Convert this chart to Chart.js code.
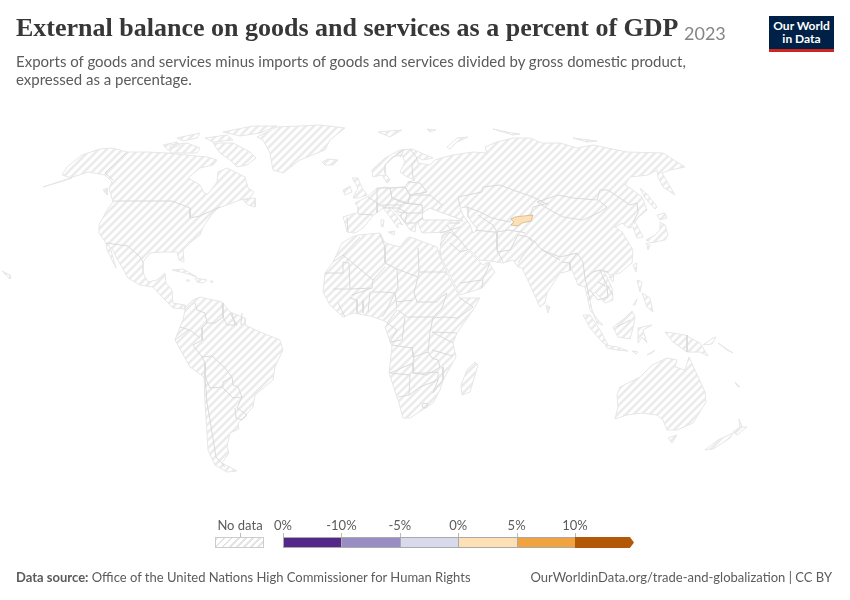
<!DOCTYPE html>
<html>
<head>
<meta charset="utf-8">
<title>External balance on goods and services as a percent of GDP</title>
<script src="https://cdn.jsdelivr.net/npm/chart.js@4"></script>
<style>
  html, body { margin: 0; padding: 0; background: #fff; }
  #page { position: relative; width: 850px; height: 600px; overflow: hidden; font-family: Lato, sans-serif; }
  #page > div, #page > span { position: absolute; white-space: nowrap; }
  #myChart { position: absolute; left: 0; top: 0; }
  #title { left: 16px; top: 13px; font: bold 26px "Liberation Serif", serif; color: #373737; }
  #year { left: 684px; top: 22px; font-size: 18px; color: #858585; }
  #subtitle { left: 16px; top: 52px; font-size: 15px; line-height: 18px; color: #5b5b5b; }
  #logo { left: 769px; top: 16px; width: 65px; padding-top: 3px; background: #002147; border-bottom: 3px solid #ce261e;
          color: #fff; font-size: 12px; font-weight: bold; line-height: 13px; text-align: center; box-sizing: content-box; height: 30px; }
  #source { left: 16px; top: 569px; font-size: 13px; color: #5b5b5b; }
  #link { right: 18px; top: 569px; font-size: 13px; color: #5b5b5b; }
  .lab { top: 517px; font-size: 13px; color: #5b5b5b; transform: translateX(-50%); }
  .bin { top: 537px; height: 11px; box-sizing: border-box; border: 1px solid #aaa; border-width: 1px 0 1px 1px; }
  .tick { top: 533px; width: 1px; height: 4px; background: #bbb; }
</style>
</head>
<body>
<div id="page">
  <canvas id="myChart" width="850" height="600"></canvas>
  <div id="title">External balance on goods and services as a percent of GDP</div>
  <div id="year">2023</div>
  <div id="subtitle">Exports of goods and services minus imports of goods and services divided by gross domestic product,<br>expressed as a percentage.</div>
  <div id="logo">Our World<br>in Data</div>
  <div id="source"><b>Data source:</b> Office of the United Nations High Commissioner for Human Rights</div>
  <div id="link">OurWorldinData.org/trade-and-globalization | CC BY</div>
</div>
<script>
// legend
const legendLabels = ['0%', '-10%', '-5%', '0%', '5%', '10%'];
const legendColors = ['#542788', '#998ec3', '#d8daeb', '#fee0b6', '#f1a340', '#b35806'];
const legendBreaks = [-10, -5, 0, 5, 10];

// only country with a value in this year
const kyrgyzstanValue = 2.5;

// map outlines, x,y pairs in map units
const northAmerica = [43,187,63,181,72,178,62,175,67,167,82,155,100,149,112,148,127,152,147,152,167,153,187,155,207,157,217,160,213,165,200,168,188,178,200,185,204,193,208,194,217,182,218,172,227,168,237,173,245,177,248,188,254,192,250,198,240,200,227,205,218,208,213,213,203,227,200,235,190,243,183,250,184,262,179,260,177,252,163,252,150,253,143,262,143,273,148,282,157,280,165,273,166,283,172,290,173,303,185,305,185,309,173,308,165,300,153,287,140,285,128,278,122,267,116,257,113,250,106,243,99,233,99,225,107,210,113,202,109,188,112,182,105,175,88,172];
const bajaCalifornia = [106,243,110,247,116,268,112,260,107,250];
const ellesmere = [223,132,253,126,277,126,260,133,240,136];
const baffin = [213,143,233,143,250,152,256,158,247,165,237,167,230,160,220,153];
const victoria = [170,145,187,143,200,148,197,153,170,153];
const banks = [163,145,177,142,180,145,168,150];
const arcticIsland1 = [177,138,200,133,197,138,183,141];
const arcticIsland2 = [205,138,227,135,233,140,213,142];
const newfoundland = [243,200,255,198,255,207,248,205];
const vancouver = [103,190,107,188,107,195];
const cuba = [172,270,183,269,197,277,185,273];
const hispaniola = [195,278,207,280,203,283,197,282];
const jamaica = [186,280,190,280,188,282];
const puertoRico = [210,281,213,281,212,283];
const greenland = [257,137,277,127,320,125,345,128,330,140,325,150,300,160,283,173,273,170,270,153,263,140];
const iceland = [322,162,328,159,338,160,333,165,325,165];
const southAmerica = [185,308,193,300,200,297,222,302,230,312,245,318,245,325,260,332,280,340,283,350,275,367,273,380,255,395,253,407,243,418,238,423,239,429,230,433,227,447,229,453,222,463,237,471,227,472,215,465,208,450,207,433,205,403,204,377,190,367,175,340,180,327,183,320,185,310];
const africa = [342,243,352,237,358,235,380,233,385,243,400,247,407,238,410,237,437,247,440,257,447,273,460,298,480,298,473,310,457,333,453,343,456,357,443,380,440,390,433,403,410,418,403,418,399,403,389,373,392,347,385,327,388,323,382,320,370,316,353,313,343,317,330,305,323,292,325,273,333,262];
const madagascar = [475,362,478,365,470,392,462,395,461,385,467,370];
const eurasia = [440,255,460,295,482,288,495,272,488,262,483,265,468,250,470,250,480,260,490,261,503,263,513,260,518,267,522,268,530,285,540,307,545,303,547,293,560,273,565,272,572,270,578,285,585,287,588,300,590,310,598,320,603,325,597,323,592,310,590,300,595,292,605,303,613,300,612,288,607,277,603,270,610,275,620,273,632,263,633,250,627,240,622,232,615,227,622,223,628,228,633,227,637,238,643,237,638,227,635,222,638,218,647,210,642,197,630,188,625,185,630,177,648,175,657,170,658,177,663,187,675,195,662,173,670,170,685,167,677,162,663,153,627,152,593,145,577,148,560,143,542,143,530,138,513,138,497,142,485,147,487,153,473,152,453,155,445,157,435,160,430,165,418,163,417,157,423,160,433,158,412,149,400,150,385,158,372,170,373,177,382,175,387,183,390,180,385,173,385,165,392,157,402,155,405,162,400,172,407,177,415,180,408,182,405,187,390,188,385,187,376,189,367,197,355,203,358,207,358,213,352,214,343,217,345,223,347,232,355,233,363,228,372,217,373,215,378,212,383,208,390,217,398,228,398,223,403,225,394,213,388,207,392,208,403,220,410,230,415,232,416,225,418,222,420,228,422,233,448,232,442,235,440,250];
const britain = [352,178,358,178,362,188,367,195,358,198,353,198,358,188];
const ireland = [343,190,350,186,352,192,345,195];
const sardinia = [381,220,384,220,383,227,381,226];
const sicily = [388,232,395,231,394,235];
const australia = [620,387,640,377,652,365,667,358,677,360,675,367,685,370,689,357,694,368,705,392,706,402,693,423,677,430,667,430,663,420,657,415,642,413,627,415,615,419,618,407,617,395];
const tasmania = [668,438,677,435,672,443];
const nzSouth = [705,450,718,440,733,433,730,438,713,449];
const nzNorth = [733,432,740,427,739,419,742,427,747,427,737,435];
const newGuinea = [665,332,673,333,685,335,700,343,708,356,700,352,687,352,673,342];
const newBritain = [703,345,713,338,716,337,712,344];
const sumatra = [583,315,590,315,600,330,608,345,603,343,590,328];
const java = [605,345,617,347,628,351,617,350,607,348];
const borneo = [613,327,625,318,632,311,635,317,633,328,630,339,618,337];
const sulawesi = [638,328,652,325,643,330,647,343,642,337,638,343];
const luzon = [637,280,642,282,640,292];
const mindanao = [642,293,650,298,653,312,647,307];
const palawan = [633,305,637,299,635,305];
const taiwan = [633,265,637,263,636,272];
const hainan = [609,277,614,275,613,282];
const sriLanka = [546,305,550,307,548,313];
const hokkaido = [657,215,665,213,667,218,660,220];
const honshu = [660,222,665,225,668,235,665,240,650,243,646,240,655,235,660,230];
const kyushu = [646,243,650,245,648,250,647,245];
const sakhalin = [640,188,648,195,657,207,655,209,645,198];
const novayaZemlya = [447,147,457,138,468,137,457,142,450,149];
const svalbard = [378,132,402,130,390,137];
const franzJosef = [427,129,436,130,430,132];
const severnaya = [493,129,507,132,520,134,513,135];
const newSiberian = [573,138,597,141,587,142];
const timor = [647,355,655,350,652,353];
const sunda = [632,351,638,352,636,354];
const newCaledonia = [735,382,740,387,737,386];
const solomons = [718,343,733,353,727,350];
const hawaii = [2,271,10,275,10,279,7,276];
const landShapes = [northAmerica, bajaCalifornia, ellesmere, baffin, victoria, banks, arcticIsland1, arcticIsland2, newfoundland, vancouver, cuba, hispaniola, jamaica, puertoRico, greenland, iceland, southAmerica, africa, madagascar, eurasia, britain, ireland, sardinia, sicily, australia, tasmania, nzSouth, nzNorth, newGuinea, newBritain, sumatra, java, borneo, sulawesi, luzon, mindanao, palawan, taiwan, hainan, sriLanka, hokkaido, honshu, kyushu, sakhalin, novayaZemlya, svalbard, franzJosef, severnaya, newSiberian, timor, sunda, newCaledonia, solomons, hawaii];

const blackSea = [422,213,430,208,440,212,457,218,463,221,450,220,423,220];
const caspianSea = [460,208,467,207,468,217,478,230,473,233,470,225,463,215];
const waterShapes = [blackSea, caspianSea];

const kyrgyzstan = [511,219,515,217,523,216,533,215,531,221,522,223,518,226,511,225,514,222];

const borderLines = [
  // north america
  [127,152,105,173,113,180], [113,201,172,201,190,208,190,218,200,216,220,207],
  [106,243,128,246,140,257,143,262],
  // south america
  [195,303,197,310,205,313,207,323,202,328,202,340,193,345,202,357,212,356,225,368,232,377,233,385,238,387,242,397,237,408,247,415],
  [180,327,190,330,200,338], [175,340,188,330], [207,323,215,323,223,317,227,325,237,325,230,313], [222,303,223,317], [232,313,235,325], [242,313,241,325],
  [202,357,205,363,205,377,210,388,222,387,233,398,242,397], [222,387,223,382,232,377],
  [205,377,207,403,210,420,212,433,216,457,225,467], [235,408,236,418,242,420,247,415],
  // africa
  [360,237,343,255,333,262], [343,255,373,280,385,267], [380,234,385,247,385,263,397,269,418,277,419,272], [418,248,419,272,447,272],
  [325,273,343,273,343,262,349,263,350,289,333,289], [350,289,372,288,373,280], [397,269,398,287,395,293,397,307], [372,292,383,292,395,293],
  [418,277,414,293,417,302], [396,302,413,300], [370,292,368,312], [395,293,385,313,382,317], [357,300,357,313], [363,300,363,313],
  [352,295,372,288], [338,303,345,317], [350,298,357,300],
  [417,302,437,302,440,298,447,293,442,308,433,317], [460,298,473,307,458,318,443,317], [433,318,443,317], [457,333,432,332], [432,332,453,343],
  [398,310,407,317,433,317,430,333,428,352,432,358], [392,345,412,348,413,357,428,352], [405,317,402,340,390,342], [397,310,387,323,397,330,390,342],
  [432,350,453,356], [412,347,414,357,413,363,390,373], [413,363,413,373,427,375,440,367,438,360,432,358],
  [390,373,410,375,409,395,398,397], [409,395,420,387,425,385,438,380,438,372,425,373,413,373], [443,367,443,380,433,393,438,380],
  [423,403,428,404,426,408,422,407,423,403],
  // asia
  [458,197,482,192,483,187,500,185,513,190,533,197,548,205], [530,217,533,207,548,203], [458,197,460,207], [467,207,480,212,492,218,510,222,512,218],
  [537,202,558,195,573,198,597,200,600,190,608,190,630,205,637,203,638,213,633,222], [537,202,550,210,563,217,583,220,600,212,607,207,598,200],
  [478,215,493,225,497,232,508,230], [475,230,493,232,497,232,497,250,503,262], [497,252,510,250,518,235,528,237], [508,230,522,232,525,233],
  [528,237,533,243,522,257,518,263], [528,237,535,242,542,250,560,257,577,253,583,262], [542,250,560,260], [562,262,570,263,570,270], [577,253,570,263],
  [583,262,585,278,593,272,600,270,608,272], [585,278,590,300], [598,282,607,287,608,297,598,300,590,290], [600,270,605,282,613,295],
  [450,232,458,238,468,250], [450,223,460,223], [440,233,460,227], [450,243,460,252,467,250], [450,232,440,245], [460,283,482,280], [482,288,483,278,488,268,490,262], [447,225,458,238],
  [687,335,687,352], [617,327,630,320],
  // europe
  [347,217,348,232], [358,214,373,215], [413,178,412,165,417,158,410,149], [385,173,385,165,398,153,405,150], [400,157,403,152],
  [408,182,420,183,427,192,410,195,405,187], [410,195,430,195,442,205,437,210], [390,188,405,187,410,195,408,203,392,198,390,188],
  [377,188,390,188,392,198,385,208,377,203,377,188], [368,197,377,203,377,213], [392,198,403,203,408,203], [382,205,402,205,398,208,385,208],
  [403,203,422,205,423,213,407,213,398,208], [407,213,405,223,415,223,423,218], [398,212,407,213], [410,195,408,203,422,205], [400,215,405,223]
];

const fillFor = (value) => {
  let i = 0;
  while (i < legendBreaks.length && value >= legendBreaks[i]) i++;
  return legendColors[i];
};

const toPoints = (flat, close) => {
  const pts = [];
  for (let i = 0; i < flat.length; i += 2) pts.push({x: flat[i], y: flat[i + 1]});
  if (close) pts.push(pts[0]);
  return pts;
};

// no data hatching
const hatch = document.createElement('canvas');
hatch.width = 8;
hatch.height = 8;
const h = hatch.getContext('2d');
h.strokeStyle = '#ebebeb';
h.lineWidth = 2.6;
[[-8, 8, 8, -8], [0, 8, 8, 0], [0, 16, 16, 0]].forEach((l) => {
  h.beginPath();
  h.moveTo(l[0], l[1]);
  h.lineTo(l[2], l[3]);
  h.stroke();
});
const ctx = document.getElementById('myChart');
const hatchFill = ctx.getContext('2d').createPattern(hatch, 'repeat');

// chart.js paints the first dataset last, so top layers go in first
const datasets = [];
datasets.push({data: toPoints(kyrgyzstan, true), fill: 'shape', backgroundColor: fillFor(kyrgyzstanValue), borderColor: '#c9a26f', borderWidth: 0.6});
borderLines.forEach((s) => datasets.push({data: toPoints(s, false), fill: false, borderColor: '#dadada', borderWidth: 1}));
waterShapes.forEach((s) => datasets.push({data: toPoints(s, true), fill: 'shape', backgroundColor: '#fff', borderColor: '#e2e2e2', borderWidth: 1}));
landShapes.forEach((s) => datasets.push({data: toPoints(s, true), fill: 'shape', backgroundColor: hatchFill, borderColor: '#e6e6e6', borderWidth: 1}));

new Chart(ctx, {
  type: 'scatter',
  data: {datasets: datasets},
  options: {
    responsive: false,
    animation: false,
    devicePixelRatio: 1,
    showLine: true,
    elements: {point: {radius: 0}, line: {tension: 0}},
    layout: {padding: 0},
    plugins: {legend: {display: false}, tooltip: {enabled: false}},
    scales: {
      x: {type: 'linear', display: false, min: 0, max: 850},
      y: {type: 'linear', display: false, min: 0, max: 600, reverse: true}
    }
  }
});

// colour legend
const page = document.getElementById('page');
const add = (cls, left, width, text, bg) => {
  const d = document.createElement('div');
  d.className = cls;
  d.style.left = left + 'px';
  if (width) d.style.width = width + 'px';
  if (text) d.textContent = text;
  if (bg) d.style.background = bg;
  page.appendChild(d);
  return d;
};
const binStart = 283, binWidth = 58.4;
legendColors.forEach((c, i) => {
  const b = add('bin', binStart + i * binWidth, i === 5 ? binWidth + 0.6 : binWidth, '', c);
  if (i === 5) {
    b.style.border = 'none';
    b.style.clipPath = 'polygon(0 0, 93% 0, 100% 50%, 93% 100%, 0 100%)';
  }
  add('tick', binStart + i * binWidth, 0);
  add('lab', binStart + i * binWidth, 0, legendLabels[i]);
});
const noData = add('bin', 215, 49, '', '');
noData.style.border = '1px solid #ccc';
noData.style.background = 'repeating-linear-gradient(135deg, #e4e4e4 0 2px, #fff 2px 5px)';
add('lab', 240, 0, 'No data');
add('tick', 240, 0);
</script>
</body>
</html>
